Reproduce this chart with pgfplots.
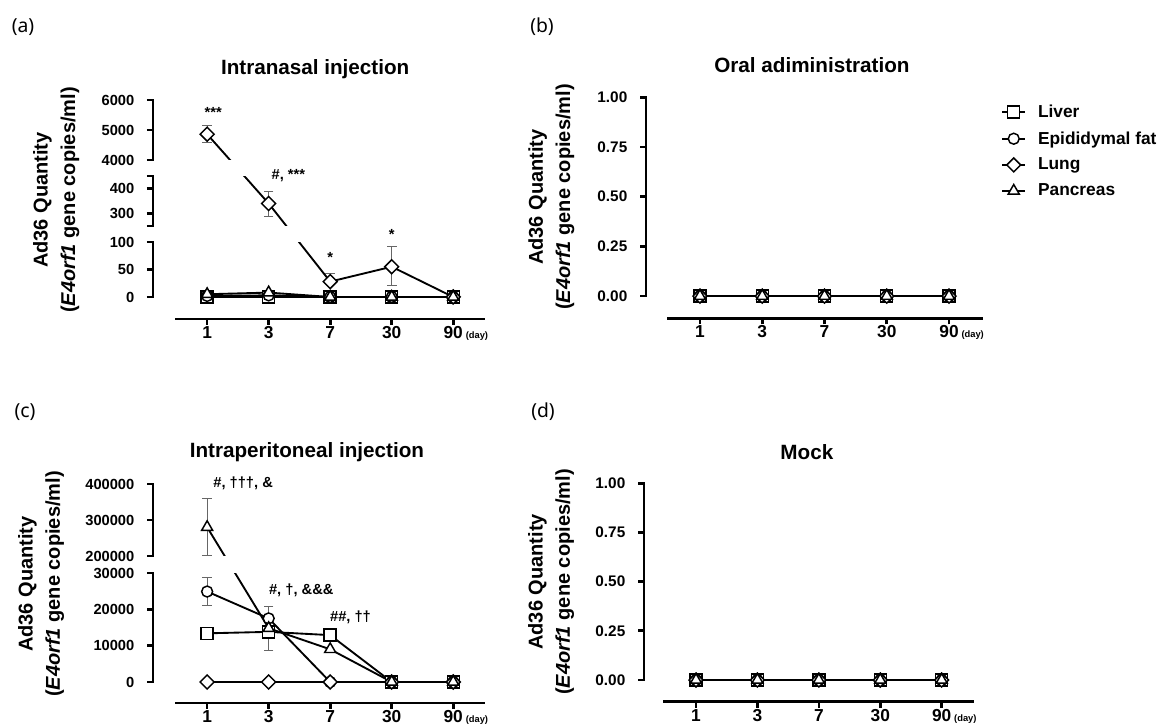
\documentclass[border=0pt]{standalone}
\usepackage{pgfplots}
\pgfplotsset{compat=1.18}
\usepackage{fontspec}
\setmainfont{Liberation Sans}
\newfontfamily\panelfont{Noto Sans}

\newcommand\lblfont{\bfseries\fontsize{15}{20.5}\selectfont}
\pgfplotsset{
  gp/.style={
    scale only axis, clip=false, anchor=south west,
    axis lines*=left, axis line style={draw=none},
    tick align=outside, major tick length=4.5pt,
    tick style={black, line width=2pt},
    xtick={0,1,2,3,4},
    xticklabels={1,3,7,30,{90\rlap{\,\fontsize{7}{8}\selectfont(day)}}},
    xticklabel style={font=\bfseries\fontsize{13}{15}\selectfont, yshift=3pt, text height=9.5pt, text depth=0pt},
    /pgf/number format/assume math mode=true,
    every axis plot/.append style={black, line width=1.4pt},
    title style={font=\bfseries\fontsize{15.5}{18}\selectfont, anchor=center, yshift=-7.5pt},
    ylabel style={font=\lblfont, align=center, anchor=south},
    ylabel={\lblfont Ad36 Quantity\\\lblfont(\textit{E4orf1} gene copies/ml)},
  },
  liver/.style={mark=square*, mark size=4.5pt, mark options={fill=white, solid, line width=1.1pt}},
  fat/.style={mark=*, mark size=4.1pt, mark options={fill=white, solid, line width=1.1pt}},
  lung/.style={mark=square*, mark size=3.7pt, mark options={fill=white, solid, rotate=45, line width=1.1pt}},
  panc/.style={mark=triangle*, mark size=4.8pt, mark options={fill=white, solid, line width=1.1pt}},
  eb/.style={forget plot, gray!80!black, line width=0.7pt, mark=-, mark size=3.6pt, mark options={solid, line width=0.7pt}},
}
\tikzset{
  axl/.style={black, line width=2pt, line cap=rect},
  ann/.style={font=\bfseries\fontsize{11}{13}\selectfont, anchor=center},
  plab/.style={font=\panelfont\fontsize{14.5}{16}\selectfont},
}

\begin{document}
\begin{tikzpicture}
\useasboundingbox (0,0) rectangle (872.25pt,545.25pt);

% (a) intranasal
\begin{axis}[gp, at={(114.75pt,306pt)},
  width=248.25pt, height=164.25pt,
  xmin=-0.88, xmax=4.5, ymin=-40, ymax=6000,
  y coord trafo/.code={\begingroup\pgfkeys{/pgf/fpu=true,/pgf/fpu/output format=fixed}\pgfmathparse{(#1<=175) ? 0.55*#1 : ((#1<=2000) ? 71+0.25*(#1-250) : 137+0.03*(#1-4000))}\pgfmathsmuggle\pgfmathresult\endgroup},
  ytick={0,50,100,250,300,400,450,4000,5000,6000},
  yticklabels={0,50,100,,300,400,,4000,5000,6000},
  yticklabel style={font=\bfseries\fontsize{11}{13}\selectfont, xshift=-6pt},
  title={Intranasal injection}, title style={at={(0.49,1.151)}},
  ylabel style={at={(-0.2085,0.543)}},
]
\addplot[eb] coordinates {(0,4590) (0,5150)};
\addplot[eb] coordinates {(1,290) (1,390)};
\addplot[eb, mark indices={2}] coordinates {(2,28) (2,43)};
\addplot[eb] coordinates {(3,21) (3,91)};
\addplot[liver] coordinates {(0,0) (1,0) (2,0) (3,0) (4,0)};
\addplot[fat] coordinates {(0,2) (1,3) (2,0) (3,0) (4,0)};
\addplot[lung] coordinates {(0,4860) (1,340) (2,28) (3,55) (4,0)};
\addplot[panc] coordinates {(0,5) (1,8) (2,0) (3,0) (4,0)};
\fill[white] (axis cs:-0.8,100) rectangle (axis cs:4.6,250);
\fill[white] (axis cs:-0.8,450) rectangle (axis cs:4.6,4000);
\draw[axl] (axis cs:-0.88,0) -- (axis cs:-0.88,100);
\draw[axl] (axis cs:-0.88,250) -- (axis cs:-0.88,450);
\draw[axl] (axis cs:-0.88,4000) -- (axis cs:-0.88,6000);
\draw[axl] (axis cs:-0.5,-40) -- (axis cs:4.5,-40);
\node[ann] at (axis cs:0.1,5570) {***};
\node[ann] at (axis cs:1.32,450) {\#, ***};
\node[ann] at (axis cs:2,71) {*};
\node[ann] at (axis cs:3,113) {*};
\end{axis}

% (b) oral
\begin{axis}[gp, at={(484.5pt,306.5pt)},
  width=252pt, height=165.75pt,
  xmin=-0.867, xmax=4.53, ymin=-0.112, ymax=1,
  ytick={0,0.25,0.5,0.75,1},
  yticklabels={0.00,0.25,0.50,0.75,1.00},
  yticklabel style={font=\bfseries\fontsize{11.5}{13}\selectfont, xshift=-6pt},
  title={Oral adiministration}, title style={at={(0.494,1.155)}},
  ylabel style={at={(-0.199,0.549)}},
  legend style={at={(1.057,0.979)}, anchor=north west, draw=none, fill=none,
    font=\bfseries\fontsize{13}{15}\selectfont, row sep=5pt, inner sep=0pt,
    /tikz/every odd column/.append style={column sep=7pt}},
  legend cell align=left,
]
\addplot[liver] coordinates {(0,0) (1,0) (2,0) (3,0) (4,0)};
\addplot[fat] coordinates {(0,0) (1,0) (2,0) (3,0) (4,0)};
\addplot[lung] coordinates {(0,0) (1,0) (2,0) (3,0) (4,0)};
\addplot[panc] coordinates {(0,0) (1,0) (2,0) (3,0) (4,0)};
\legend{Liver, Epididymal fat, Lung, Pancreas}
\draw[axl] (axis cs:-0.867,0) -- (axis cs:-0.867,1);
\draw[axl] (axis cs:-0.514,-0.112) -- (axis cs:4.53,-0.112);
\end{axis}

% (c) intraperitoneal
\begin{axis}[gp, at={(114.75pt,18pt)},
  width=248.25pt, height=164.25pt,
  xmin=-0.88, xmax=4.5, ymin=-5780, ymax=400000,
  y coord trafo/.code={\begingroup\pgfkeys{/pgf/fpu=true,/pgf/fpu/output format=fixed}\pgfmathparse{(#1<=100000) ? 0.003633*#1 : 126+0.00036*(#1-200000)}\pgfmathsmuggle\pgfmathresult\endgroup},
  ytick={0,10000,20000,30000,200000,300000,400000},
  yticklabels={0,10000,20000,30000,200000,300000,400000},
  yticklabel style={font=\bfseries\fontsize{11}{13}\selectfont, xshift=-6pt},
  title={Intraperitoneal injection}, title style={at={(0.465,1.155)}},
  ylabel style={at={(-0.254,0.543)}},
]
\addplot[eb] coordinates {(0,202000) (0,360000)};
\addplot[eb] coordinates {(0,21200) (0,28700)};
\addplot[eb, mark indices={2}] coordinates {(1,17500) (1,20700)};
\addplot[eb, mark indices={1}] coordinates {(1,8800) (1,14800)};
\addplot[liver] coordinates {(0,13400) (1,13800) (2,12900) (3,0) (4,0)};
\addplot[fat] coordinates {(0,24900) (1,17500) (2,0) (3,0) (4,0)};
\addplot[lung] coordinates {(0,0) (1,0) (2,0) (3,0) (4,0)};
\addplot[panc] coordinates {(0,280000) (1,14800) (2,9000) (3,0) (4,0)};
\fill[white] (axis cs:-0.8,30000) rectangle (axis cs:4.6,200000);
\draw[axl] (axis cs:-0.88,0) -- (axis cs:-0.88,30000);
\draw[axl] (axis cs:-0.88,200000) -- (axis cs:-0.88,400000);
\draw[axl] (axis cs:-0.5,-5780) -- (axis cs:4.5,-5780);
\node[ann] at (axis cs:0.585,402800) {\#, †††, \&};
\node[ann] at (axis cs:1.53,25300) {\#, †, \&\&\&};
\node[ann] at (axis cs:2.33,17900) {\#\#, ††};
\end{axis}

% (d) mock
\begin{axis}[gp, at={(483pt,19pt)},
  width=246.75pt, height=163.8pt,
  xmin=-0.847, xmax=4.51, ymin=-0.11, ymax=1,
  ytick={0,0.25,0.5,0.75,1},
  yticklabels={0.00,0.25,0.50,0.75,1.00},
  yticklabel style={font=\bfseries\fontsize{11.5}{13}\selectfont, xshift=-6pt},
  title={Mock}, title style={at={(0.495,1.152)}},
  ylabel style={at={(-0.198,0.548)}},
]
\addplot[liver] coordinates {(0,0) (1,0) (2,0) (3,0) (4,0)};
\addplot[fat] coordinates {(0,0) (1,0) (2,0) (3,0) (4,0)};
\addplot[lung] coordinates {(0,0) (1,0) (2,0) (3,0) (4,0)};
\addplot[panc] coordinates {(0,0) (1,0) (2,0) (3,0) (4,0)};
\draw[axl] (axis cs:-0.847,0) -- (axis cs:-0.847,1);
\draw[axl] (axis cs:-0.52,-0.11) -- (axis cs:4.51,-0.11);
\end{axis}

\node[plab] at (17.25pt,525pt) {(a)};
\node[plab] at (406.5pt,525pt) {(b)};
\node[plab] at (18.75pt,236.25pt) {(c)};
\node[plab] at (407.25pt,236.25pt) {(d)};
\end{tikzpicture}
\end{document}
